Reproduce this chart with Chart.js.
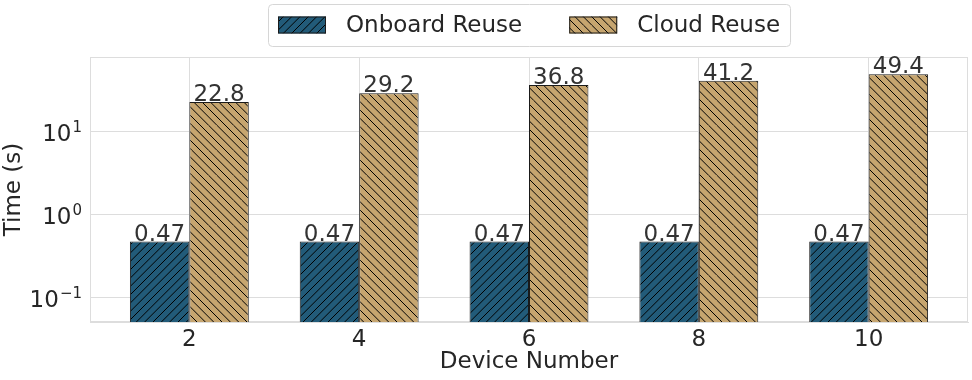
<!DOCTYPE html>
<html>
<head>
<meta charset="utf-8">
<script src="https://cdn.jsdelivr.net/npm/chart.js@4.4.1/dist/chart.umd.min.js"></script>
<style>
  html, body { margin: 0; padding: 0; background: #fff; }
</style>
</head>
<body>
<canvas id="chart" width="972" height="380"></canvas>
<script>
// chart data
const devices = [2, 4, 6, 8, 10];
const onboardReuse = [0.47, 0.47, 0.47, 0.47, 0.47];
const cloudReuse = [22.8, 29.2, 36.8, 41.2, 49.4];
const yTicks = [0.1, 1, 10];
const seriesNames = ['Onboard Reuse', 'Cloud Reuse'];

const FONT = 'DejaVu Sans';
const TEXT = '#262626';
const GRID = '#dddddd';

// hatch pattern, three lines per 25px tile
function hatch(bg, dir) {
    const s = 25;
    const c = document.createElement('canvas');
    c.width = s; c.height = s;
    const g = c.getContext('2d');
    g.fillStyle = bg;
    g.fillRect(0, 0, s, s);
    g.strokeStyle = '#000';
    g.lineWidth = 1;
    for (let k = -3; k <= 3; k++) {
        const x0 = k * s / 3;
        g.beginPath();
        if (dir === '/') { g.moveTo(x0, s); g.lineTo(x0 + s, 0); }
        else { g.moveTo(x0, 0); g.lineTo(x0 + s, s); }
        g.stroke();
    }
    return g.createPattern(c, 'repeat');
}

const frame = {
    id: 'frame',
    beforeDatasetsDraw(chart) {
        const { ctx, chartArea: a } = chart;
        ctx.save();
        ctx.strokeStyle = GRID;
        ctx.lineWidth = 1;
        ctx.strokeRect(a.left + 0.5, a.top + 0.5, a.right - a.left - 1, a.bottom - a.top - 1);
        ctx.restore();
    }
};

// y tick labels as 10 with a raised exponent
const powTicks = {
    id: 'powTicks',
    afterDraw(chart) {
        const ctx = chart.ctx;
        const y = chart.scales.y;
        const right = y.right - 8;
        ctx.save();
        ctx.fillStyle = TEXT;
        ctx.textBaseline = 'alphabetic';
        ctx.textAlign = 'left';
        y.ticks.forEach(t => {
            const py = y.getPixelForValue(t.value);
            const exp = String(Math.round(Math.log10(t.value))).replace('-', '\u2212');
            ctx.font = `23px ${FONT}`;
            const wb = ctx.measureText('10').width;
            ctx.font = `15px ${FONT}`;
            const we = ctx.measureText(exp).width;
            const x0 = right - wb - we - 1;
            ctx.font = `23px ${FONT}`;
            ctx.fillText('10', x0, py + 9.5);
            ctx.font = `15px ${FONT}`;
            ctx.fillText(exp, x0 + wb + 1, py + 0.5);
        });
        ctx.restore();
    }
};

const valueLabels = {
    id: 'valueLabels',
    afterDatasetsDraw(chart) {
        const ctx = chart.ctx;
        ctx.save();
        ctx.font = `23px ${FONT}`;
        ctx.fillStyle = '#333';
        ctx.textAlign = 'center';
        ctx.textBaseline = 'alphabetic';
        chart.data.datasets.forEach((ds, i) => {
            chart.getDatasetMeta(i).data.forEach((bar, j) => {
                ctx.fillText(String(ds.data[j].y), bar.x, bar.y - 1);
            });
        });
        ctx.restore();
    }
};

const legendBox = {
    id: 'legendBox',
    afterDraw(chart) {
        const ctx = chart.ctx;
        ctx.save();
        ctx.font = `23px ${FONT}`;
        const sw = 48, sh = 17, gap = 20, between = 47, pad = 10, h = 42, top = 4;
        const items = chart.data.datasets.map(ds => ({
            label: ds.label, fill: ds.backgroundColor, w: ctx.measureText(ds.label).width
        }));
        const total = pad * 2 + items.reduce((a, it) => a + sw + gap + it.w, 0) + between * (items.length - 1);
        const cx = (chart.chartArea.left + chart.chartArea.right) / 2;
        const left = Math.round(cx - total / 2);

        ctx.beginPath();
        ctx.roundRect(left + 0.5, top + 0.5, total, h, 4);
        ctx.fillStyle = 'rgba(255,255,255,0.8)';
        ctx.fill();
        ctx.strokeStyle = '#d6d6d6';
        ctx.lineWidth = 1;
        ctx.stroke();

        let x = left + pad;
        const cy = top + h / 2;
        items.forEach(it => {
            ctx.fillStyle = it.fill;
            ctx.fillRect(x, cy - sh / 2, sw, sh);
            ctx.strokeStyle = '#1a1a1a';
            ctx.strokeRect(x + 0.5, cy - sh / 2 + 0.5, sw - 1, sh - 1);
            ctx.fillStyle = TEXT;
            ctx.textAlign = 'left';
            ctx.textBaseline = 'middle';
            ctx.fillText(it.label, x + sw + gap, cy + 1);
            x += sw + gap + it.w + between;
        });
        ctx.restore();
    }
};

new Chart(document.getElementById('chart'), {
    type: 'bar',
    data: {
        datasets: [
            {
                label: seriesNames[0],
                data: devices.map((d, i) => ({ x: d, y: onboardReuse[i] })),
                backgroundColor: hatch('#225b79', '/'),
                borderColor: '#1a1a1a',
                borderWidth: 1,
                categoryPercentage: 0.7,
                barPercentage: 1
            },
            {
                label: seriesNames[1],
                data: devices.map((d, i) => ({ x: d, y: cloudReuse[i] })),
                backgroundColor: hatch('#c6a56f', '\\'),
                borderColor: '#1a1a1a',
                borderWidth: 1,
                categoryPercentage: 0.7,
                barPercentage: 1
            }
        ]
    },
    options: {
        responsive: false,
        animation: false,
        layout: { padding: { top: 57, right: 4, left: 0, bottom: 0 } },
        plugins: { legend: { display: false }, tooltip: { enabled: false } },
        scales: {
            x: {
                type: 'linear',
                min: 0.83,
                max: 11.17,
                offset: false,
                grid: { color: GRID, drawTicks: false, offset: false },
                border: { color: GRID },
                afterBuildTicks: s => { s.ticks = devices.map(v => ({ value: v })); },
                ticks: { color: TEXT, font: { family: FONT, size: 23 }, padding: 4, autoSkip: false, maxRotation: 0 },
                title: { display: true, text: 'Device Number', color: TEXT, font: { family: FONT, size: 23 }, padding: { top: 0, bottom: 4 } },
                afterFit: s => { s.height = 58; }
            },
            y: {
                type: 'logarithmic',
                min: 0.05,
                max: 80,
                grid: { color: GRID, drawTicks: false },
                border: { color: GRID },
                afterBuildTicks: s => { s.ticks = yTicks.map(v => ({ value: v })); },
                ticks: { display: false, autoSkip: false },
                title: { display: true, text: 'Time (s)', color: TEXT, font: { family: FONT, size: 23 }, padding: { top: 0, bottom: 0 } },
                afterFit: s => { s.width = 90; }
            }
        }
    },
    plugins: [frame, valueLabels, legendBox, powTicks]
});
</script>
</body>
</html>
